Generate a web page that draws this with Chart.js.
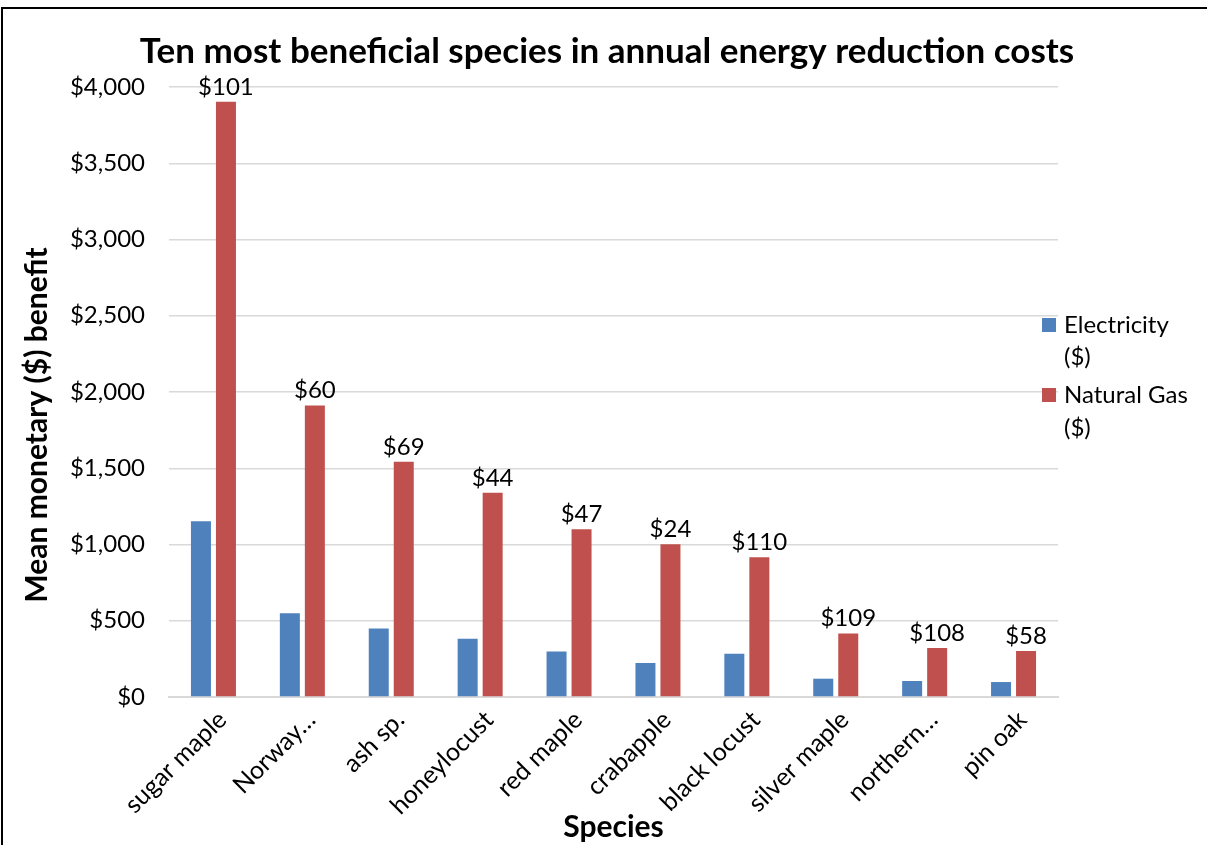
<!DOCTYPE html>
<html>
<head>
<meta charset="utf-8">
<title>Ten most beneficial species in annual energy reduction costs</title>
<script src="https://cdn.jsdelivr.net/npm/chart.js@4.4.1/dist/chart.umd.min.js"></script>
<style>
  html, body { margin: 0; padding: 0; background: #fff; }
  #wrap { position: relative; width: 1207px; height: 845px; overflow: hidden; }
  #wrap canvas { position: absolute; left: 0; top: 0; }
  #frame { position: absolute; left: 1px; top: 7px; right: -10px; bottom: -10px;
           border-top: 2px solid #000; border-left: 2px solid #000; pointer-events: none; }
</style>
</head>
<body>
<div id="wrap">
  <canvas id="chart" width="1207" height="845"></canvas>
  <div id="frame"></div>
</div>
<script>
// Species, ordered by total annual energy benefit
const species = ['sugar maple', 'Norway…', 'ash sp.', 'honeylocust', 'red maple',
                 'crabapple', 'black locust', 'silver maple', 'northern…', 'pin oak'];

// Mean monetary benefit per species ($)
const electricity = [1153, 550, 450, 382, 299, 223, 284, 120, 105, 98];
const naturalGas  = [3903, 1912, 1542, 1339, 1100, 1002, 917, 417, 321, 301];

// Callout text printed above each natural gas bar
const gasCallouts = ['$101', '$60', '$69', '$44', '$47', '$24', '$110', '$109', '$108', '$58'];

// Value axis
const yMin = 0, yMax = 4000, yStep = 500;

const seriesNames  = ['Electricity ($)', 'Natural Gas ($)'];
const seriesColors = ['#4F81BD', '#C0504D'];

const chartTitle = 'Ten most beneficial species in annual energy reduction costs';
const yAxisTitle = 'Mean monetary ($) benefit';
const xAxisTitle = 'Species';

const FONT = 'Lato, "Open Sans", sans-serif';

// Chart title, centred over the whole figure
const titlePlugin = {
  id: 'figureTitle',
  afterDraw(chart) {
    const ctx = chart.ctx;
    ctx.save();
    ctx.font = 'bold 35px ' + FONT;
    ctx.fillStyle = '#000';
    ctx.textAlign = 'center';
    ctx.textBaseline = 'middle';
    ctx.fillText(chartTitle, 607, 52);
    ctx.restore();
  }
};

// Text above each natural gas bar
const calloutPlugin = {
  id: 'gasCallouts',
  afterDatasetsDraw(chart) {
    const ctx = chart.ctx;
    const meta = chart.getDatasetMeta(1);
    ctx.save();
    ctx.font = '24px ' + FONT;
    ctx.fillStyle = '#000';
    ctx.textAlign = 'center';
    ctx.textBaseline = 'bottom';
    meta.data.forEach((bar, i) => {
      ctx.fillText(gasCallouts[i], bar.x, bar.y - 3);
    });
    ctx.restore();
  }
};

// Legend on the right with wrapped labels
const sideLegendPlugin = {
  id: 'sideLegend',
  afterDraw(chart) {
    const ctx = chart.ctx;
    const x0 = chart.chartArea.right - 16;
    const rows = [[325, 357], [395, 428]];
    ctx.save();
    ctx.font = '24px ' + FONT;
    ctx.textBaseline = 'middle';
    ctx.textAlign = 'left';
    chart.data.datasets.forEach((ds, i) => {
      const [y1, y2] = rows[i];
      ctx.fillStyle = ds.backgroundColor;
      ctx.fillRect(x0, y1 - 7, 14, 14);
      ctx.fillStyle = '#000';
      const parts = ds.label.split(' (');
      ctx.fillText(parts[0], x0 + 22, y1);
      ctx.fillText('(' + parts[1], x0 + 22, y2);
    });
    ctx.restore();
  }
};

// Rotated value-axis title
const yTitlePlugin = {
  id: 'yTitle',
  afterDraw(chart) {
    const ctx = chart.ctx;
    ctx.save();
    ctx.translate(37, 425);
    ctx.rotate(-Math.PI / 2);
    ctx.font = 'bold 30px ' + FONT;
    ctx.fillStyle = '#000';
    ctx.textAlign = 'center';
    ctx.textBaseline = 'middle';
    ctx.fillText(yAxisTitle, 0, 0);
    ctx.restore();
  }
};

new Chart(document.getElementById('chart'), {
  type: 'bar',
  data: {
    labels: species,
    datasets: [
      { label: seriesNames[0], data: electricity, backgroundColor: seriesColors[0] },
      { label: seriesNames[1], data: naturalGas, backgroundColor: seriesColors[1] }
    ]
  },
  options: {
    responsive: false,
    animation: false,
    categoryPercentage: 0.5625,
    barPercentage: 0.8,
    layout: { padding: { left: 10, right: 149, top: 87, bottom: 0 } },
    plugins: {
      legend: { display: false },
      tooltip: { enabled: false },
      title: { display: false }
    },
    scales: {
      x: {
        grid: { display: false, drawTicks: false },
        border: { display: true, color: '#D9D9D9', width: 2 },
        ticks: {
          color: '#000',
          font: { family: FONT, size: 25 },
          maxRotation: 45, minRotation: 45,
          autoSkip: false,
          padding: 8,
          labelOffset: 9
        },
        title: {
          display: true, text: xAxisTitle, color: '#000',
          font: { family: FONT, size: 30, weight: 'bold' },
          padding: { top: 0, bottom: 0 }
        },
        afterFit(s) { s.height = 148; }
      },
      y: {
        min: yMin, max: yMax,
        grid: { color: '#D9D9D9', lineWidth: 1.5, drawTicks: false },
        border: { display: false },
        ticks: {
          stepSize: yStep,
          color: '#000',
          font: { family: FONT, size: 24 },
          padding: 24,
          callback: v => '$' + Number(v).toLocaleString('en-US')
        },
        afterFit(s) { s.width = 159; }
      }
    }
  },
  plugins: [titlePlugin, calloutPlugin, sideLegendPlugin, yTitlePlugin]
});
</script>
</body>
</html>
